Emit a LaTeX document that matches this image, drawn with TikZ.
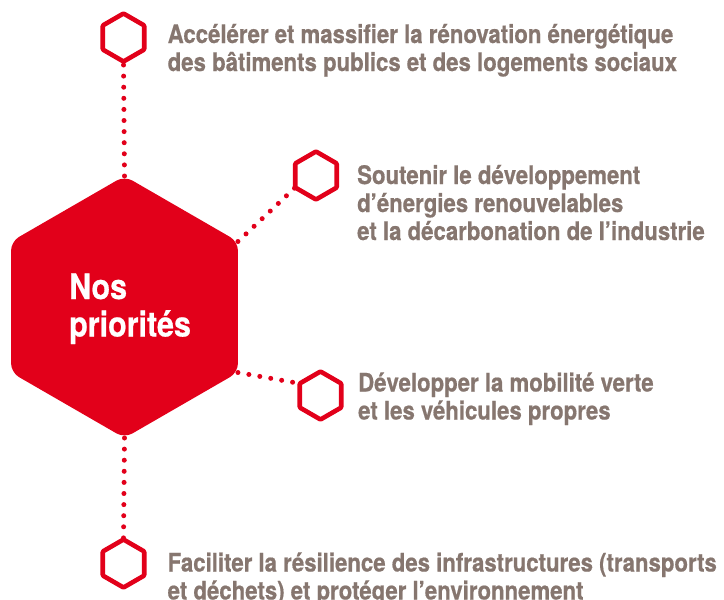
\documentclass[tikz,border=0pt]{standalone}
\usepackage{fontspec}
\newfontfamily\condfont{TeX Gyre Heros}[FakeStretch=0.87,FakeBold=0.6]
\usetikzlibrary{backgrounds}
\definecolor{brandred}{HTML}{E2001A}
\definecolor{textgray}{HTML}{86766F}
\tikzset{
  pics/hexagon/.style={code={
    \path[pic actions] (-0.8660*#1,0) -- (-0.8660*#1,-0.5*#1) -- (0,-#1) -- (0.8660*#1,-0.5*#1)
      -- (0.8660*#1,0.5*#1) -- (0,#1) -- (-0.8660*#1,0.5*#1) -- cycle;
    \coordinate (-N) at (0,-#1);
    \coordinate (-S) at (0,#1);
    \coordinate (-NE) at (0.8660*#1,-0.5*#1);
    \coordinate (-SE) at (0.8660*#1,0.5*#1);
    \coordinate (-NW) at (-0.8660*#1,-0.5*#1);
    \coordinate (-SW) at (-0.8660*#1,0.5*#1);
  }},
  bighex/.style={fill=brandred, rounded corners=9pt},
  smallhex/.style={draw=brandred, fill=white, line width=4.6pt, line join=round, rounded corners=1pt},
  dotline/.style={draw=brandred, line width=5pt, line cap=round, dash pattern=on 0pt off 11.1pt},
  itemtext/.style={anchor=base west, align=left, text=textgray, inner sep=0pt,
    font=\condfont\bfseries\fontsize{25.5}{28}\selectfont},
  titletext/.style={anchor=base west, align=left, text=white, inner sep=0pt,
    font=\condfont\bfseries\fontsize{35}{37.5}\selectfont}
}
\begin{document}
\begin{tikzpicture}[x=1pt,y=-1pt]
\useasboundingbox (0,0) rectangle (724,600);
\pic[bighex] (big) at (124.5,307) {hexagon=131};
\pic[smallhex] (h1) at (123.5,37.5) {hexagon=24};
\pic[smallhex] (h2) at (316,175.5) {hexagon=24};
\pic[smallhex] (h3) at (320.5,395.5) {hexagon=24};
\pic[smallhex] (h4) at (123.5,563.5) {hexagon=24};
\begin{pgfonlayer}{background}
\draw[dotline] (big-N) -- (h1-S);
\draw[dotline] (big-NE) -- (h2-SW);
\draw[dotline] (big-SE) -- (h3-NW);
\draw[dotline] (big-S) -- (h4-N);
\end{pgfonlayer}
% anchor = baseline of the last line
\node[titletext] (title) at (69,336.5) {Nos\\priorités};
\node[itemtext] (t1) at (167.5,71) {Accélérer et massifier la rénovation énergétique\\des bâtiments publics et des logements sociaux};
\node[itemtext] (t2) at (357,240) {Soutenir le développement\\d’énergies renouvelables\\et la décarbonation de l’industrie};
\node[itemtext] (t3) at (358,419.5) {Développer la mobilité verte\\et les véhicules propres};
\node[itemtext] (t4) at (167.5,599.5) {Faciliter la résilience des infrastructures (transports\\et déchets) et protéger l’environnement};
\end{tikzpicture}
\end{document}
